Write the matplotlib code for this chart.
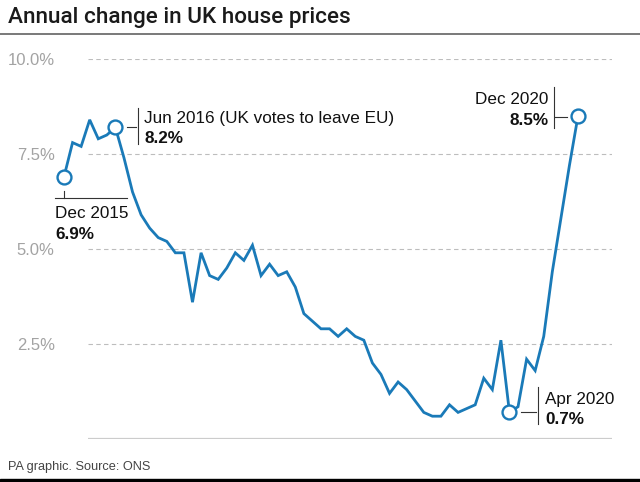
import matplotlib.pyplot as plt
from matplotlib.lines import Line2D
from matplotlib.patches import Rectangle

plt.rcParams['font.family'] = ['Liberation Sans', 'DejaVu Sans']

# monthly annual change, Dec 2015 .. Dec 2020
months = ["Dec 2015"] + [f"{m} {y}" for y in range(2016, 2021)
                         for m in ["Jan", "Feb", "Mar", "Apr", "May", "Jun",
                                   "Jul", "Aug", "Sep", "Oct", "Nov", "Dec"]]
values = [6.9,
          7.8, 7.7, 8.4, 7.9, 8.0, 8.2, 7.4, 6.5, 5.9, 5.55, 5.3, 5.2,
          4.9, 4.9, 3.6, 4.9, 4.3, 4.2, 4.5, 4.9, 4.7, 5.1, 4.3, 4.6,
          4.3, 4.4, 4.0, 3.3, 3.1, 2.9, 2.9, 2.7, 2.9, 2.7, 2.6, 2.0,
          1.7, 1.2, 1.5, 1.3, 1.0, 0.7, 0.6, 0.6, 0.9, 0.7, 0.8, 0.9,
          1.6, 1.3, 2.6, 0.7, 0.85, 2.1, 1.8, 2.7, 4.4, 5.8, 7.2, 8.5]
yticks = [2.5, 5.0, 7.5, 10.0]
ytick_labels = ["2.5%", "5.0%", "7.5%", "10.0%"]

highlights = {
    "Dec 2015": "6.9%",
    "Jun 2016": "8.2%",
    "Apr 2020": "0.7%",
    "Dec 2020": "8.5%",
}

BLUE = "#1a7ab8"
W, H = 640, 482

fig = plt.figure(figsize=(W / 100, H / 100), dpi=100)
ax = fig.add_axes([88 / W, 43 / H, 524 / W, 380 / H])

xs = list(range(len(values)))
ax.plot(xs, values, color=BLUE, lw=2.0, clip_on=False, zorder=3,
        solid_joinstyle="miter")
hi_idx = [months.index(m) for m in highlights]
ax.plot(hi_idx, [values[i] for i in hi_idx], "o", ms=10, mfc="white",
        mec=BLUE, mew=1.7, clip_on=False, zorder=4)

step = 514 / 60
ax.set_xlim(24 / step, 60 + 34 / step)
ax.set_ylim(0, 10)
ax.set_yticks(yticks)
ax.set_yticklabels(ytick_labels)
ax.tick_params(axis="y", length=0, pad=24, labelsize=12, labelcolor="#a3a3a3")
ax.set_xticks([])
for s in ax.spines.values():
    s.set_visible(False)
ax.grid(axis="y", linestyle=(0, (4, 3)), color="#bdbdbd", lw=0.8)
ax.axhline(0, color="#cccccc", lw=1.6, zorder=2)


def px(i, dx, dy):
    # pixel offset (dx right, dy down) from data point i -> figure fraction
    x, y = ax.transData.transform((i, values[i]))
    return fig.transFigure.inverted().transform((x + dx, y - dy))


def seg(i, a, b):
    p, q = px(i, *a), px(i, *b)
    fig.add_artist(Line2D([p[0], q[0]], [p[1], q[1]], color="#333333", lw=0.8))


def label(i, dx, dy1, dy2, ha):
    p = px(i, dx, dy1)
    fig.text(p[0], p[1], months[i], ha=ha, va="baseline", fontsize=12.3,
             color="#111111")
    p = px(i, dx, dy2)
    fig.text(p[0], p[1], highlights[months[i]], ha=ha, va="baseline",
             fontsize=12.3, fontweight="bold", color="#111111")


i = months.index("Dec 2015")
seg(i, (0, 14), (0, 20.7))
seg(i, (-9, 20.7), (63, 20.7))
label(i, -9, 41, 62, "left")

i = months.index("Jun 2016")
seg(i, (12, 0), (21, 0))
seg(i, (22.3, -19), (22.3, 17))
p = px(i, 29, -4)
fig.text(p[0], p[1], "Jun 2016 (UK votes to leave EU)", ha="left",
         va="baseline", fontsize=12.3, color="#111111")
p = px(i, 29, 16)
fig.text(p[0], p[1], highlights["Jun 2016"], ha="left", va="baseline",
         fontsize=12.3, fontweight="bold", color="#111111")

i = months.index("Apr 2020")
seg(i, (12, 0), (27, 0))
seg(i, (28.3, -25), (28.3, 12))
label(i, 36, -8.7, 11.3, "left")

i = months.index("Dec 2020")
seg(i, (-23, 1), (-11, 1))
seg(i, (-24, -28.7), (-24, 12.3))
label(i, -29.3, -11.7, 9.3, "right")

fig.text(8 / W, 1 - 23.5 / H, "Annual change in UK house prices",
         fontsize=16.2, family=["Roboto", "DejaVu Sans"], fontweight="medium",
         color="#1a1a1a", va="baseline", ha="left")
fig.add_artist(Line2D([0, 1], [1 - 33.5 / H] * 2, color="#555555", lw=1.1))
fig.text(8 / W, 1 - 470 / H, "PA graphic. Source: ONS", fontsize=9.2,
         color="#444444", va="baseline", ha="left")
fig.add_artist(Rectangle((0, 0), 1, 3 / H, transform=fig.transFigure,
                         color="black"))

fig.savefig("out.png", dpi=100)
